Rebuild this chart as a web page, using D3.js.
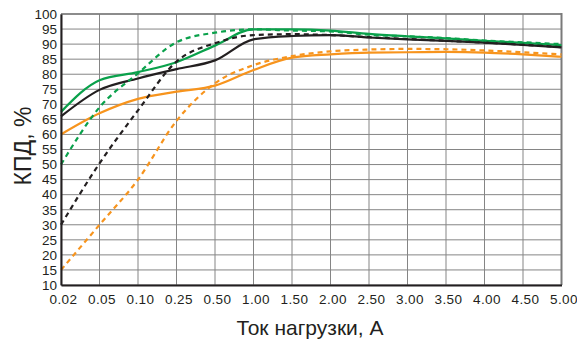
<!DOCTYPE html>
<html>
<head>
<meta charset="utf-8">
<script src="https://cdn.jsdelivr.net/npm/d3@7"></script>
<style>
body { margin: 0; background: #fff; }
text { font-family: "Liberation Sans", Arial, sans-serif; fill: #231f20; }
</style>
</head>
<body>
<svg id="chart" width="577" height="339"></svg>
<script>
var xLabels = ["0.02", "0.05", "0.10", "0.25", "0.50", "1.00", "1.50", "2.00", "2.50", "3.00", "3.50", "4.00", "4.50", "5.00"];
var yTicks = d3.range(10, 101, 5);

var greenSolid   = [67.5, 78.0, 80.7, 84.0, 89.5, 94.9, 94.9, 94.5, 93.4, 92.6, 91.9, 91.1, 90.4, 89.6];
var greenDashed  = [50.0, 69.0, 80.3, 90.6, 93.8, 94.9, 94.5, 94.2, 93.1, 92.6, 92.0, 91.2, 90.6, 90.0];
var blackSolid   = [66.0, 74.8, 78.6, 81.7, 84.6, 91.6, 92.7, 93.0, 92.2, 91.6, 91.1, 90.5, 89.7, 88.9];
var blackDashed  = [30.0, 50.4, 68.0, 84.2, 90.3, 93.0, 93.3, 93.0, 92.3, 91.7, 91.1, 90.5, 89.8, 89.0];
var orangeSolid  = [60.0, 67.0, 71.8, 74.2, 76.2, 81.4, 85.5, 86.6, 87.2, 87.3, 87.4, 87.2, 86.6, 85.8];
var orangeDashed = [15.0, 30.0, 45.0, 64.5, 77.0, 83.0, 86.0, 87.6, 88.2, 88.4, 88.3, 87.9, 87.3, 86.6];

var green = "#0aa14b", black = "#231f20", orange = "#f7941d";

var series = [
	{ values: greenSolid, color: green, dash: null },
	{ values: blackSolid, color: black, dash: null },
	{ values: orangeSolid, color: orange, dash: null },
	{ values: blackDashed, color: black, dash: "5,4" },
	{ values: orangeDashed, color: orange, dash: "5,4" },
	{ values: greenDashed, color: green, dash: "5,4" }
];

var svg = d3.select("#chart");
var plotLeft = 61, plotRight = 561.5, plotTop = 14, plotBottom = 285;

var x = d3.scalePoint().domain(xLabels).range([plotLeft, plotRight]);
var y = d3.scaleLinear().domain([10, 100]).range([plotBottom, plotTop]);

// grid
var grid = svg.append("g");
grid.selectAll("line.h").data(yTicks).enter().append("line")
	.attr("x1", plotLeft).attr("x2", plotRight)
	.attr("y1", d => y(d)).attr("y2", d => y(d))
	.attr("stroke", "#858585").attr("stroke-width", 1);
grid.selectAll("line.v").data(xLabels).enter().append("line")
	.attr("x1", d => x(d)).attr("x2", d => x(d))
	.attr("y1", plotTop).attr("y2", plotBottom)
	.attr("stroke", "#858585").attr("stroke-width", 1);

// frame
svg.append("line").attr("x1", plotRight).attr("x2", plotRight).attr("y1", plotTop - 1).attr("y2", plotBottom)
	.attr("stroke", "#7a7a7a").attr("stroke-width", 2);
svg.append("line").attr("x1", plotLeft).attr("x2", plotRight).attr("y1", plotTop).attr("y2", plotTop)
	.attr("stroke", "#7a7a7a").attr("stroke-width", 1.5);

// lines
var line = d3.line()
	.x((d, i) => x(xLabels[i]))
	.y(d => y(d))
	.curve(d3.curveMonotoneX);

svg.append("g").selectAll("path").data(series).enter().append("path")
	.attr("d", d => line(d.values))
	.attr("fill", "none")
	.attr("stroke", d => d.color)
	.attr("stroke-width", 2.2)
	.attr("stroke-dasharray", d => d.dash);

// axes
var yAxis = svg.append("g").attr("transform", "translate(" + plotLeft + ",0)")
	.call(d3.axisLeft(y).tickValues(yTicks).tickSize(0).tickPadding(4));
yAxis.select(".domain").attr("stroke", "#231f20").attr("stroke-width", 2);
yAxis.selectAll("text").style("font-size", "13.5px").attr("fill", "#231f20");

var xAxis = svg.append("g").attr("transform", "translate(0," + plotBottom + ")")
	.call(d3.axisBottom(x).tickSize(0).tickPadding(9));
xAxis.select(".domain").attr("stroke", "#231f20").attr("stroke-width", 2);
xAxis.selectAll("text").style("font-size", "13.5px").style("letter-spacing", "0.4px")
	.attr("fill", "#231f20").attr("dx", 2);

// titles
svg.append("text")
	.attr("transform", "translate(31,146) rotate(-90)")
	.attr("text-anchor", "middle")
	.style("font-size", "23px")
	.text("КПД, %");

svg.append("text")
	.attr("x", 310).attr("y", 335)
	.attr("text-anchor", "middle")
	.style("font-size", "21px")
	.text("Ток нагрузки, А");
</script>
</body>
</html>
